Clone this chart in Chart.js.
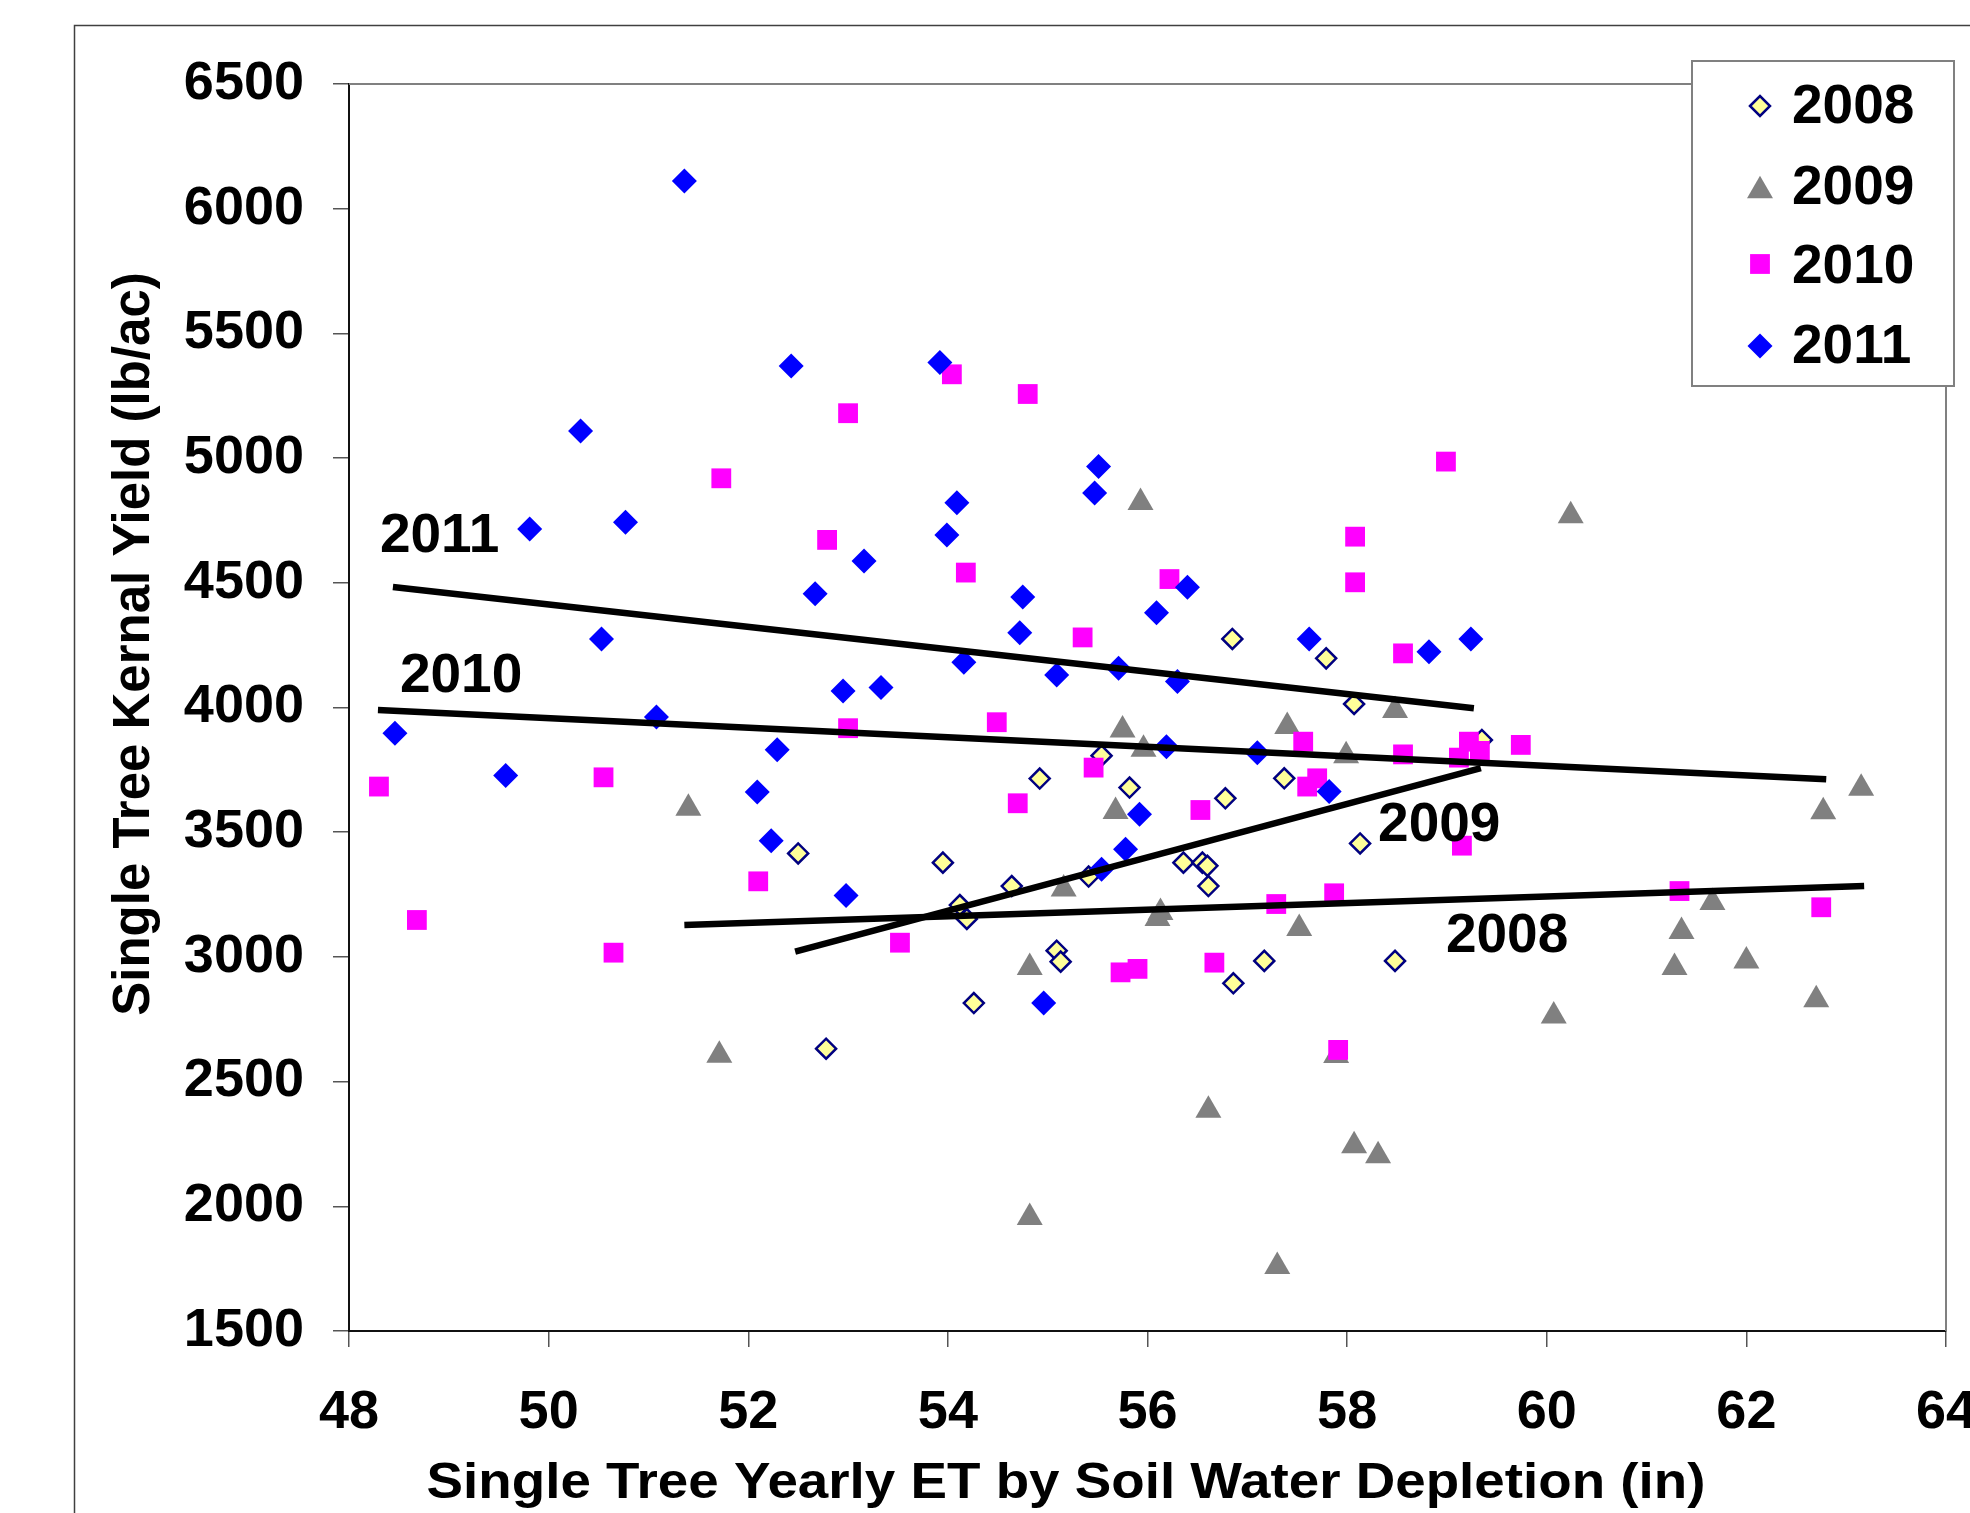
<!DOCTYPE html>
<html>
<head>
<meta charset="utf-8">
<script src="https://cdn.jsdelivr.net/npm/chart.js@4.4.1/dist/chart.umd.min.js"></script>
<style>
html,body{margin:0;padding:0;background:#fff;overflow:hidden;}
canvas{display:block;}
</style>
</head>
<body>
<canvas id="c" width="1970" height="1513"></canvas>
<script>
// ---------- data ----------
const seriesNames = ['2008', '2009', '2010', '2011'];

const et2008 = [52.50, 52.78, 53.95, 54.12, 54.19, 54.26, 54.64, 54.92, 55.09, 55.13, 55.41, 55.54, 55.82, 56.36, 56.55, 56.60, 56.61, 56.78, 56.85, 56.86, 57.17, 57.37, 57.79, 58.07, 58.13, 58.48, 59.35];
const yield2008 = [3415, 2632, 3378, 3208, 3152, 2815, 3284, 3715, 3025, 2981, 3322, 3807, 3679, 3378, 3378, 3365, 3284, 3636, 4275, 2894, 2984, 3716, 4197, 4014, 3455, 2984, 3870];

const et2009 = [51.40, 51.71, 54.82, 54.82, 55.16, 55.68, 55.75, 55.93, 55.96, 56.10, 56.13, 56.61, 57.30, 57.40, 57.52, 57.89, 57.99, 58.07, 58.31, 58.48, 60.07, 60.24, 61.28, 61.35, 61.66, 62.00, 62.70, 62.77, 63.15];
const yield2009 = [3596, 2606, 2957, 1955, 3272, 3583, 3910, 4822, 3833, 3154, 3178, 2385, 1759, 3924, 3114, 2605, 3807, 2243, 2203, 3988, 2763, 4769, 2957, 3102, 3218, 2984, 2828, 3582, 3676];

const et2010 = [48.30, 48.68, 50.55, 50.65, 51.73, 52.10, 52.79, 53.00, 53.00, 53.52, 54.04, 54.18, 54.49, 54.70, 54.80, 55.35, 55.46, 55.73, 55.90, 56.22, 56.53, 56.67, 57.29, 57.56, 57.60, 57.70, 57.87, 57.91, 58.08, 58.08, 58.56, 58.56, 58.99, 59.12, 59.15, 59.22, 59.33, 59.74, 61.33, 62.75];
const yield2010 = [3683, 3148, 3720, 3017, 4919, 3303, 4672, 5180, 3917, 3057, 5336, 4541, 3941, 3616, 5257, 4281, 3759, 2938, 2952, 4515, 3589, 2977, 3212, 3863, 3683, 3716, 3255, 2627, 4685, 4502, 4217, 3812, 4986, 3799, 3446, 3863, 3826, 3850, 3264, 3199];

const et2011 = [48.46, 49.57, 49.81, 50.32, 50.53, 50.77, 51.08, 51.36, 52.09, 52.23, 52.29, 52.43, 52.67, 52.95, 52.98, 53.16, 53.33, 53.92, 53.99, 54.09, 54.16, 54.72, 54.75, 54.96, 55.09, 55.47, 55.51, 55.54, 55.71, 55.78, 55.92, 56.09, 56.19, 56.30, 56.40, 57.10, 57.62, 57.82, 58.82, 59.24];
const yield2011 = [3897, 3727, 4716, 5109, 4275, 4743, 3962, 6111, 3661, 3466, 3831, 5369, 4456, 4066, 3246, 4587, 4080, 5383, 4692, 4821, 4181, 4300, 4443, 2815, 4130, 4860, 4966, 3351, 4157, 3432, 3572, 4380, 3843, 4104, 4482, 3819, 4275, 3663, 4224, 4275];

// linear trend lines (end points)
const trendX2008 = [51.36, 63.18];
const trendY2008 = [3128, 3284];
const trendX2009 = [52.47, 59.34];
const trendY2009 = [3021, 3757];
const trendX2010 = [48.29, 62.80];
const trendY2010 = [3990, 3712];
const trendX2011 = [48.44, 59.27];
const trendY2011 = [4483, 3997];

const xTickValues = [48, 50, 52, 54, 56, 58, 60, 62, 64];
const yTickValues = [1500, 2000, 2500, 3000, 3500, 4000, 4500, 5000, 5500, 6000, 6500];

const xTitleText = 'Single Tree Yearly ET by Soil Water Depletion (in)';
const yTitleText = 'Single Tree Kernal Yield (lb/ac)';

// ---------- helpers ----------
const FONT = "'Liberation Sans', Arial, Helvetica, sans-serif";
const toPoints = (xs, ys) => xs.map((x, i) => ({x: x, y: ys[i]}));

const markerStyles = [
  {pointStyle: 'rectRot', radius: 10, backgroundColor: '#FFFF99', borderColor: '#000080', borderWidth: 2.5},
  {pointStyle: 'triangle', radius: 15, backgroundColor: '#808080', borderColor: '#808080', borderWidth: 0},
  {pointStyle: 'rect', radius: 14, backgroundColor: '#FF00FF', borderColor: '#FF00FF', borderWidth: 0},
  {pointStyle: 'rectRot', radius: 12.5, backgroundColor: '#0000FF', borderColor: '#0000FF', borderWidth: 0}
];

function scatterSet(label, xs, ys, st, order) {
  return {
    type: 'scatter', label: label, data: toPoints(xs, ys), order: order,
    pointStyle: st.pointStyle, pointRadius: st.radius, pointHoverRadius: st.radius,
    pointBackgroundColor: st.backgroundColor, pointBorderColor: st.borderColor,
    pointBorderWidth: st.borderWidth, showLine: false
  };
}
function trendSet(label, xs, ys) {
  return {
    type: 'scatter', label: label, data: toPoints(xs, ys), order: 1,
    showLine: true, borderColor: '#000', borderWidth: 6.5, pointRadius: 0,
    pointHoverRadius: 0, fill: false, borderCapStyle: 'butt'
  };
}

function drawMarker(ctx, st, x, y) {
  const r = st.radius;
  ctx.beginPath();
  if (st.pointStyle === 'rectRot') {
    ctx.moveTo(x - r, y); ctx.lineTo(x, y - r); ctx.lineTo(x + r, y); ctx.lineTo(x, y + r);
  } else if (st.pointStyle === 'rect') {
    const s = Math.SQRT1_2 * r;
    ctx.rect(x - s, y - s, 2 * s, 2 * s);
  } else if (st.pointStyle === 'triangle') {
    ctx.moveTo(x, y - r);
    ctx.lineTo(x + r * Math.sin(2 * Math.PI / 3), y - r * Math.cos(2 * Math.PI / 3));
    ctx.lineTo(x + r * Math.sin(4 * Math.PI / 3), y - r * Math.cos(4 * Math.PI / 3));
  }
  ctx.closePath();
  ctx.fillStyle = st.backgroundColor;
  ctx.fill();
  if (st.borderWidth > 0) {
    ctx.lineWidth = st.borderWidth;
    ctx.strokeStyle = st.borderColor;
    ctx.stroke();
  }
}

// ---------- plugins ----------
const framePlugin = {
  id: 'frame',
  beforeDraw(chart) {
    const ctx = chart.ctx;
    ctx.save();
    ctx.fillStyle = '#fff';
    ctx.fillRect(0, 0, chart.width, chart.height);
    ctx.strokeStyle = '#404040';
    ctx.lineWidth = 1.5;
    ctx.strokeRect(74.5, 25.5, 4000, 4000);
    ctx.restore();
  },
  beforeDatasetsDraw(chart) {
    const a = chart.chartArea, ctx = chart.ctx;
    ctx.save();
    ctx.strokeStyle = '#808080';
    ctx.lineWidth = 2;
    ctx.beginPath();
    ctx.moveTo(a.left, a.top);
    ctx.lineTo(a.right, a.top);
    ctx.lineTo(a.right, a.bottom);
    ctx.stroke();
    ctx.restore();
  }
};

const trendLabels = [
  {text: '2011', x: 48.31, y: 4685},
  {text: '2010', x: 48.51, y: 4123},
  {text: '2009', x: 58.31, y: 3526},
  {text: '2008', x: 58.99, y: 3081}
];

const overlayPlugin = {
  id: 'overlay',
  afterDraw(chart) {
    const ctx = chart.ctx, sx = chart.scales.x, sy = chart.scales.y;
    ctx.save();
    // trend line labels
    ctx.fillStyle = '#000';
    ctx.font = 'bold 55px ' + FONT;
    ctx.textAlign = 'left';
    ctx.textBaseline = 'middle';
    trendLabels.forEach(l => ctx.fillText(l.text, sx.getPixelForValue(l.x), sy.getPixelForValue(l.y)));

    // axis titles
    ctx.save();
    ctx.translate(1066, 1484);
    ctx.scale(1.095, 1);
    ctx.font = 'bold 50px ' + FONT;
    ctx.textAlign = 'center';
    ctx.fillText(xTitleText, 0, 0);
    ctx.restore();

    ctx.save();
    ctx.translate(135, 644);
    ctx.rotate(-Math.PI / 2);
    ctx.font = 'bold 51px ' + FONT;
    ctx.textAlign = 'center';
    ctx.fillText(yTitleText, 0, 0);
    ctx.restore();

    // legend
    ctx.fillStyle = '#fff';
    ctx.fillRect(1692, 61, 262, 325);
    ctx.strokeStyle = '#808080';
    ctx.lineWidth = 2;
    ctx.strokeRect(1692, 61, 262, 325);
    const rows = [106, 187, 264, 346];
    const textRows = [108, 189, 268, 348];
    seriesNames.forEach((name, i) => {
      const st = markerStyles[i];
      const dy = st.pointStyle === 'triangle' ? st.radius / 4 : 0;
      drawMarker(ctx, st, 1760, rows[i] + dy);
      ctx.fillStyle = '#000';
      ctx.font = 'bold 55px ' + FONT;
      ctx.textAlign = 'left';
      ctx.textBaseline = 'middle';
      ctx.fillText(name, 1792, textRows[i]);
    });
    ctx.restore();
  }
};

// ---------- chart ----------
const datasets = [
  scatterSet(seriesNames[0], et2008, yield2008, markerStyles[0], 5),
  scatterSet(seriesNames[1], et2009, yield2009, markerStyles[1], 4),
  scatterSet(seriesNames[2], et2010, yield2010, markerStyles[2], 3),
  scatterSet(seriesNames[3], et2011, yield2011, markerStyles[3], 2),
  trendSet('Linear (2008)', trendX2008, trendY2008),
  trendSet('Linear (2009)', trendX2009, trendY2009),
  trendSet('Linear (2010)', trendX2010, trendY2010),
  trendSet('Linear (2011)', trendX2011, trendY2011)
];

new Chart(document.getElementById('c'), {
  type: 'scatter',
  data: {datasets: datasets},
  plugins: [framePlugin, overlayPlugin],
  options: {
    responsive: false,
    animation: false,
    events: [],
    layout: {padding: {left: 0, top: 84, right: 24, bottom: 0}},
    plugins: {legend: {display: false}, tooltip: {enabled: false}, title: {display: false}},
    scales: {
      x: {
        type: 'linear', position: 'bottom', min: 48, max: 64,
        afterBuildTicks: s => { s.ticks = xTickValues.map(v => ({value: v})); },
        afterFit: s => { s.height = 182; s.paddingLeft = 0; s.paddingRight = 0; },
        grid: {drawOnChartArea: false, drawTicks: true, tickLength: 16, color: '#555', lineWidth: 1.5},
        border: {display: true, color: '#111', width: 2},
        ticks: {
          color: '#000', padding: 34, maxRotation: 0, minRotation: 0, autoSkip: false,
          font: {family: FONT, size: 54, weight: 'bold', lineHeight: 1.2},
          callback: v => String(v)
        }
      },
      y: {
        type: 'linear', position: 'left', min: 1500, max: 6500,
        afterBuildTicks: s => { s.ticks = yTickValues.map(v => ({value: v})); },
        afterFit: s => { s.width = 349; s.paddingTop = 0; s.paddingBottom = 0; },
        grid: {drawOnChartArea: false, drawTicks: true, tickLength: 16, color: '#555', lineWidth: 1.5},
        border: {display: true, color: '#111', width: 2},
        ticks: {
          color: '#000', padding: 29, autoSkip: false,
          font: {family: FONT, size: 54, weight: 'bold', lineHeight: 1.2},
          callback: v => String(v)
        }
      }
    }
  }
});
</script>
</body>
</html>
